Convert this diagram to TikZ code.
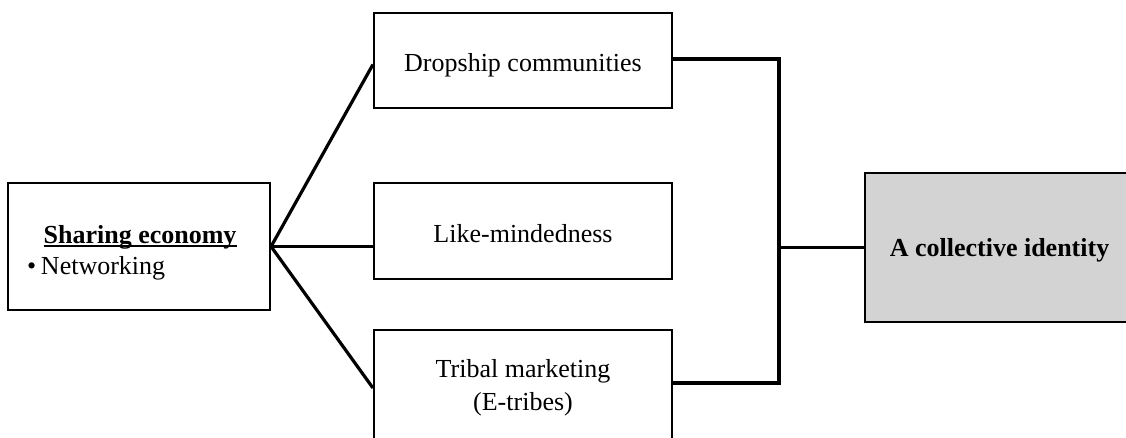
\documentclass[tikz,border=0pt]{standalone}
\usepackage{fontspec}
\setmainfont{Liberation Serif}
\usetikzlibrary{calc}
\definecolor{boxgray}{HTML}{D3D3D3}
\newcommand\myul[1]{\setbox0\hbox{#1}\rlap{\rule[-3pt]{\wd0}{1.7pt}}\box0}
\newcommand\lowered[2]{\raisebox{#1}[0pt][0pt]{#2}}
\begin{document}
\begin{tikzpicture}[x=0.75pt,y=-0.75pt,
  box/.style={draw=black,line width=1.6pt,rectangle,inner sep=0pt,align=center,
    font=\fontsize{19.5}{24.5}\selectfont},
  conn/.style={line width=2.4pt}]
\clip (0,0) rectangle (1126,438);
\fill[white] (0,0) rectangle (1126,438);
\node[box,minimum width=262*0.75pt,minimum height=127*0.75pt,
  font=\fontsize{19.5}{23.25}\selectfont] (share) at (139,246.5)
  {\lowered{2.6pt}{\makebox[165pt][l]{\begin{tabular}[t]{@{}l@{}}\hspace*{11pt}\textbf{\myul{Sharing economy}}\\\makebox[9pt][l]{\hspace*{-1.5pt}\textbullet}Networking\end{tabular}}}};
\node[box,minimum width=298*0.75pt,minimum height=95*0.75pt] (drop) at (523,60.5) {\lowered{-8.6pt}{Dropship communities}};
\node[box,minimum width=298*0.75pt,minimum height=96*0.75pt] (like) at (523,231) {\lowered{-8.25pt}{Like-mindedness}};
\node[box,minimum width=298*0.75pt,minimum height=116*0.75pt,font=\fontsize{19.5}{24.75}\selectfont] (tribal) at (523,388) {\lowered{8.25pt}{\begin{tabular}[t]{@{}c@{}}Tribal marketing\\(E-tribes)\end{tabular}}};
\node[box,fill=boxgray,minimum width=269*0.75pt,minimum height=149*0.75pt,font=\fontsize{19.5}{25}\selectfont\bfseries] (coll) at (999.5,247.5) {\lowered{-7.1pt}{A collective identity}};
\coordinate (jt) at (779,59);
\coordinate (jm) at (779,247.5);
\coordinate (jb) at (779,383);
\draw[conn] (share.east) -- ($(drop.west)+(0,4)$);
\draw[conn] (share.east) -- (share.east -| like.west);
\draw[conn] (share.east) -- (tribal.west);
\draw[conn] (drop.east |- jt) -- (jt) -- (jb) -- (tribal.east |- jb);
\draw[conn] (jm) -- (coll.west);
\end{tikzpicture}
\end{document}
